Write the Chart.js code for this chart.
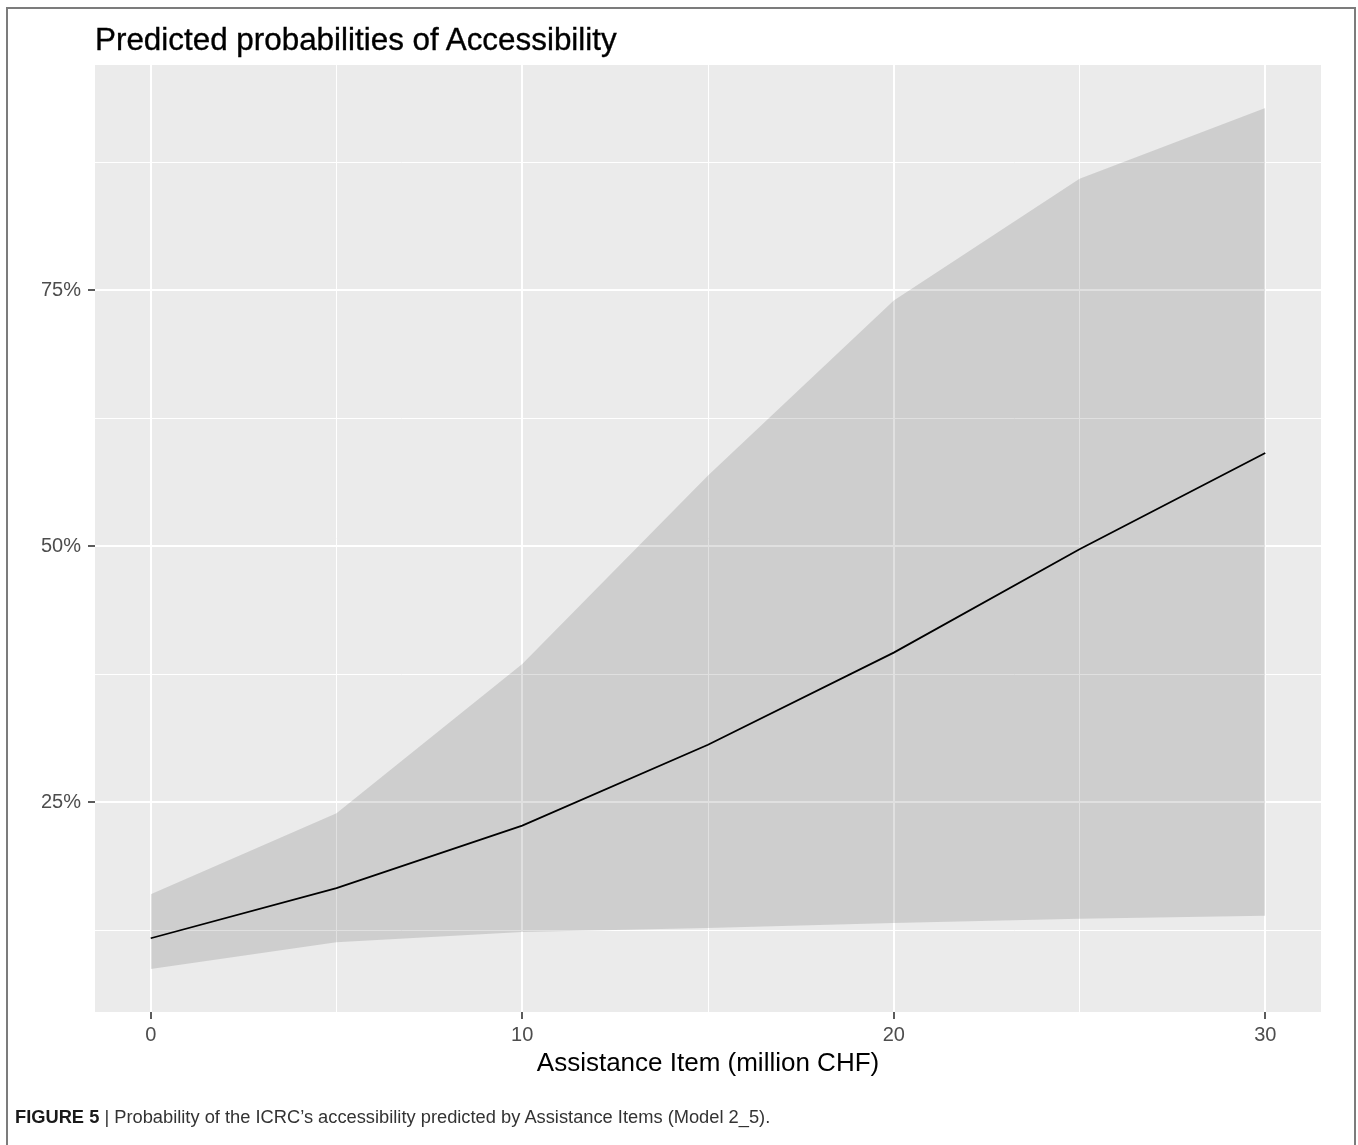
<!DOCTYPE html>
<html>
<head>
<meta charset="utf-8">
<title>Predicted probabilities of Accessibility</title>
<script src="https://cdn.jsdelivr.net/npm/chart.js@4.4.1/dist/chart.umd.min.js"></script>
<style>
  html, body { margin: 0; padding: 0; background: #fff; }
  body { width: 1358px; height: 1145px; position: relative; overflow: hidden;
         font-family: "Liberation Sans", Arial, sans-serif; }
  #frame { position: absolute; left: 6px; top: 7px; width: 1350px; height: 1200px;
           border: 2px solid #7c7c7c; box-sizing: border-box; }
  #wrap { position: absolute; left: 0; top: 0; width: 1358px; height: 1145px; }
  #title { position: absolute; left: 95px; top: 22px; font-size: 31.4px; color: #000;
           white-space: nowrap; line-height: 36px; -webkit-text-stroke: 0.35px #000; }
  #caption { position: absolute; left: 15px; top: 1106px; font-size: 18.3px; color: #333;
             white-space: nowrap; line-height: 22px; }
  #caption b { color: #1a1a1a; }
</style>
</head>
<body>
<div id="frame"></div>
<div id="wrap"><canvas id="chart" width="1358" height="1145"></canvas></div>
<div id="title">Predicted probabilities of Accessibility</div>
<div id="caption"><b>FIGURE 5</b> | Probability of the ICRC’s accessibility predicted by Assistance Items (Model 2_5).</div>
<script>
// Assistance item values (million CHF) at which the model was evaluated
const xValues   = [0, 5, 10, 15, 20, 25, 30];
// Predicted probability of accessibility (%) and its confidence band
const predicted = [11.7, 16.6, 22.7, 30.6, 39.6, 49.7, 59.1];
const upperCI   = [16.0, 23.9, 38.5, 56.9, 74.0, 85.9, 92.8];
const lowerCI   = [8.7, 11.3, 12.3, 12.7, 13.2, 13.6, 13.9];

// Axis breaks: labelled (major) and unlabelled (minor) grid positions
const xMajorTicks = [0, 10, 20, 30];
const xMinorTicks = [5, 15, 25];
const yMajorTicks = [25, 50, 75];
const yMinorTicks = [12.5, 37.5, 62.5, 87.5];

const xTitle = 'Assistance Item (million CHF)';

// ggplot-style 5% expansion of the data range
function expand(lo, hi) { const d = (hi - lo) * 0.05; return [lo - d, hi + d]; }
const [xMin, xMax] = expand(Math.min(...xValues), Math.max(...xValues));
const [yMin, yMax] = expand(Math.min(...lowerCI), Math.max(...upperCI));

const toPoints = ys => xValues.map((x, i) => ({ x: x, y: ys[i] }));
const tickList = (major, minor) => major.concat(minor).sort((a, b) => a - b).map(v => ({ value: v }));

const panelBackground = {
  id: 'panelBackground',
  beforeDraw(chart) {
    const { ctx, chartArea: a } = chart;
    ctx.save();
    ctx.fillStyle = '#ebebeb';
    ctx.fillRect(a.left, a.top, a.right - a.left, a.bottom - a.top);
    ctx.restore();
  }
};

const tickFont = { family: '"Liberation Sans", Arial, sans-serif', size: 20 };
const tickColor = '#4d4d4d';

new Chart(document.getElementById('chart'), {
  type: 'line',
  data: {
    datasets: [
      {
        label: 'upper',
        data: toPoints(upperCI),
        borderColor: 'rgba(0,0,0,0)',
        borderWidth: 0,
        backgroundColor: 'rgba(0,0,0,0.12)',
        fill: '+1',
        pointRadius: 0,
        tension: 0
      },
      {
        label: 'lower',
        data: toPoints(lowerCI),
        borderColor: 'rgba(0,0,0,0)',
        borderWidth: 0,
        fill: false,
        pointRadius: 0,
        tension: 0
      },
      {
        label: 'Predicted',
        data: toPoints(predicted),
        borderColor: '#000',
        borderWidth: 1.8,
        fill: false,
        pointRadius: 0,
        tension: 0
      }
    ]
  },
  options: {
    responsive: false,
    animation: false,
    devicePixelRatio: 1,
    layout: { padding: { left: 0, right: 37, top: 65, bottom: 65 } },
    plugins: {
      legend: { display: false },
      title: { display: false },
      tooltip: { enabled: false }
    },
    scales: {
      x: {
        type: 'linear',
        min: xMin,
        max: xMax,
        afterBuildTicks: s => { s.ticks = tickList(xMajorTicks, xMinorTicks); },
        afterFit: s => { s.height = 68; },
        border: { display: false },
        grid: {
          color: '#ffffff',
          lineWidth: c => xMajorTicks.includes(c.tick.value) ? 2 : 1,
          drawTicks: true,
          tickLength: 7,
          tickWidth: 1.6,
          tickColor: c => xMajorTicks.includes(c.tick.value) ? '#333333' : 'rgba(0,0,0,0)'
        },
        ticks: {
          autoSkip: false,
          maxRotation: 0,
          padding: 4,
          color: tickColor,
          font: tickFont,
          callback: v => xMajorTicks.includes(v) ? String(v) : ''
        },
        title: {
          display: true,
          text: xTitle,
          color: '#000',
          font: { family: '"Liberation Sans", Arial, sans-serif', size: 26 },
          padding: { top: 0, bottom: 1 }
        }
      },
      y: {
        type: 'linear',
        min: yMin,
        max: yMax,
        afterBuildTicks: s => { s.ticks = tickList(yMajorTicks, yMinorTicks); },
        afterFit: s => { s.width = 95; },
        border: { display: false },
        grid: {
          color: '#ffffff',
          lineWidth: c => yMajorTicks.includes(c.tick.value) ? 2 : 1,
          drawTicks: true,
          tickLength: 7,
          tickWidth: 1.6,
          tickColor: c => yMajorTicks.includes(c.tick.value) ? '#333333' : 'rgba(0,0,0,0)'
        },
        ticks: {
          autoSkip: false,
          padding: 7,
          color: tickColor,
          font: tickFont,
          callback: v => yMajorTicks.includes(v) ? v + '%' : ''
        }
      }
    }
  },
  plugins: [panelBackground]
});
</script>
</body>
</html>
